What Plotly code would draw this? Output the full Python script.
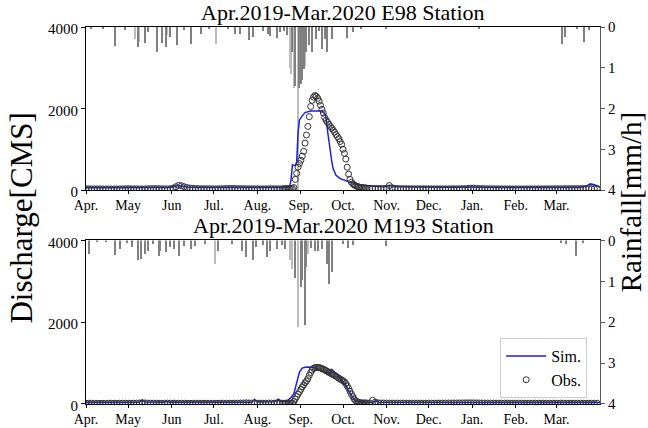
import pandas as pd
import plotly.graph_objects as go

# ---------------- data (day offsets from 2019-04-01) ----------------
start = pd.Timestamp("2019-04-01")
month_labels = ["Apr.", "May", "Jun", "Jul.", "Aug.", "Sep.", "Oct.", "Nov.", "Dec.", "Jan.", "Feb.", "Mar."]
discharge_ticks = [0, 2000, 4000]
rain_ticks = [0, 1, 2, 3, 4]
titles = ["Apr.2019-Mar.2020 E98 Station", "Apr.2019-Mar.2020 M193 Station"]

# observed discharge sample days (every 2 days, daily during the event)
obs_days = list(range(0, 140, 2)) + list(range(140, 201)) + list(range(202, 366, 2))

obs_e98 = [
    30, 29, 28, 28, 27, 27, 26, 26, 25, 25, 26,
    26, 27, 28, 30, 32, 30, 29, 28, 27, 26, 28, 30, 33, 35, 34, 32, 30, 29, 28, 30,
    45, 80, 115, 105, 80, 60, 48, 40, 36, 34,
    32, 31, 30, 30, 29, 29, 28, 30, 33, 36, 38, 37, 35, 34, 33, 32, 31, 30, 30, 29, 29, 28, 28, 29, 30, 31, 30, 29, 28,
    30, 30, 31, 32, 33, 34, 35, 38, 60, 260,
    410, 560, 650, 730, 830, 950, 1150, 1350, 1560, 1800,
    2050, 2200, 2280, 2320, 2300, 2250, 2180, 2080, 1980, 1890,
    1780, 1710, 1660, 1610, 1560, 1520, 1470, 1420, 1360, 1310,
    1260, 1190, 1120, 1000, 900, 760, 560, 390, 260, 190,
    150, 125, 105, 90, 78, 68, 60, 55, 50, 46,
    43,
    40, 38, 37, 36, 35, 36, 45, 110, 55, 40, 36, 34, 33, 32, 31,
    31, 30, 30, 30, 29, 29, 29, 28, 28, 28, 28, 28, 28, 29, 29, 30, 30, 31, 32, 34,
    38, 45, 48, 42, 36, 33, 31, 30, 30, 29,
    29, 29, 28, 28, 28, 28, 27, 27, 27, 27, 27, 27, 28, 28, 28, 28, 29, 29, 29, 30,
    30, 30, 30, 31, 31, 32, 32, 32, 33, 33, 34, 34, 35, 35, 34, 33, 32,
]

obs_m193 = [
    18, 18, 17, 17, 17, 16, 16, 16, 17, 17, 18, 18, 19, 19, 18, 18, 18, 19, 20, 24,
    30, 26, 22, 20, 19, 19, 18, 18, 19, 20, 20, 19, 19, 18, 18, 18, 17, 17, 17, 18,
    18, 18, 18, 17, 17, 17, 17, 18, 18, 18, 19, 19, 19, 20, 20, 22, 25, 28, 24, 22,
    21, 20, 20, 20, 21, 22, 22, 21, 20, 20,
    19, 19, 19, 20, 20, 21, 22, 25, 60, 120,
    180, 240, 300, 360, 420, 470, 520, 560, 620, 700,
    770, 830, 870, 890, 895, 895, 890, 880, 865, 850,
    835, 815, 795, 775, 755, 735, 715, 700, 680, 655,
    630, 610, 590, 565, 545, 500, 445, 380, 310, 240,
    180, 120, 80, 55, 40, 32, 28, 26, 25, 24,
    24,
    24, 90, 45, 28, 24, 23, 23, 22, 22, 22, 22, 21, 21, 21, 21,
    21, 21, 20, 20, 20, 20, 20, 20, 20, 21, 21, 22, 22, 23, 23, 24, 24, 25, 26, 26,
    27, 28, 27, 26, 25, 24, 23, 22, 22, 21,
    21, 21, 20, 20, 20, 20, 20, 19, 19, 19, 19, 19, 19, 19, 19, 19, 19, 19, 19, 19,
    19, 19, 19, 19, 19, 19, 19, 18, 18, 18, 18, 18, 18, 18, 18, 18, 18,
]

# simulated discharge
sim_e98_days = [0, 20, 40, 60, 63, 66, 69, 73, 80, 100, 115, 125, 135, 143, 145, 146, 147, 148, 149, 150,
                151, 152, 154, 156, 160, 165, 168, 170, 171, 172, 173, 174, 175, 176, 178, 181, 188, 195, 205, 213,
                216, 219, 230, 250, 272, 275, 278, 300, 330, 352, 356, 359, 362, 366]
sim_e98 = [55, 58, 60, 62, 85, 110, 95, 70, 62, 60, 65, 72, 68, 62, 80, 250, 620, 600, 610, 680,
           1400, 1720, 1820, 1900, 1940, 1950, 1940, 1880, 1750, 1450, 1150, 900, 700, 520, 360, 280, 190, 130, 90, 80,
           115, 80, 70, 65, 65, 78, 65, 62, 60, 60, 90, 150, 130, 70]

sim_m193_days = [0, 10, 25, 38, 40, 42, 55, 57, 59, 80, 100, 118, 120, 122, 134, 137, 139, 142, 144, 146,
                 148, 149, 150, 152, 154, 156, 160, 163, 165, 168, 171, 173, 174, 175, 177, 179, 181, 183, 185, 187,
                 189, 191, 193, 196, 204, 206, 208, 240, 280, 320, 366]
sim_m193 = [35, 38, 40, 45, 95, 50, 42, 60, 42, 40, 40, 45, 115, 50, 55, 120, 70, 70, 100, 160,
            250, 400, 560, 780, 880, 900, 905, 890, 860, 820, 780, 735, 790, 845, 780, 700, 620, 540, 460, 330,
            200, 100, 60, 45, 42, 80, 45, 38, 38, 37, 36]

# rainfall [mm/h]
rain_e98_dark_days = [4, 12, 21, 28, 37, 42, 44, 51, 54, 57, 60, 65, 70, 75, 82, 88, 101, 106, 110, 116,
                      119, 126, 130, 131, 136, 138, 141, 143, 147, 149, 152, 153, 154, 155, 157, 159, 161, 164, 166, 168,
                      170, 172, 175, 186, 190, 196, 214, 280, 339, 341, 350, 355, 358]
rain_e98_dark = [0.05, 0.04, 0.47, 0.08, 0.48, 0.40, 0.12, 0.62, 0.40, 0.48, 0.25, 0.45, 0.08, 0.41, 0.17, 0.06, 0.06, 0.17, 0.16, 0.33,
                 0.24, 0.10, 0.17, 0.22, 0.27, 0.12, 0.10, 0.20, 0.62, 1.44, 1.50, 1.40, 1.30, 1.03, 0.62, 0.45, 0.62, 0.29, 0.10, 0.54,
                 0.29, 0.62, 0.29, 0.28, 0.12, 0.05, 0.04, 0.03, 0.42, 0.25, 0.06, 0.36, 0.08]
rain_e98_light_days = [35, 38, 58, 93, 145, 146, 148, 151, 156]
rain_e98_light = [0.29, 0.37, 0.20, 0.41, 1.00, 1.15, 1.50, 4.50, 0.95]

rain_m193_dark_days = [2, 8, 14, 21, 24, 29, 33, 37, 39, 42, 44, 48, 52, 53, 57, 60, 63, 66, 70, 75,
                       78, 85, 94, 104, 111, 114, 119, 121, 126, 129, 131, 136, 140, 142, 149, 153, 154, 156, 157, 160,
                       163, 165, 168, 172, 173, 175, 183, 187, 190, 214, 338, 342, 349, 354]
rain_m193_dark = [0.34, 0.06, 0.05, 0.36, 0.22, 0.08, 0.18, 0.50, 0.46, 0.34, 0.26, 0.10, 0.38, 0.26, 0.30, 0.18, 0.22, 0.38, 0.14, 0.22,
                  0.14, 0.10, 0.26, 0.10, 0.26, 0.42, 0.50, 0.18, 0.12, 0.42, 0.26, 0.22, 0.12, 0.22, 0.92, 1.14, 0.98, 2.08, 0.66, 0.20,
                  0.26, 0.26, 0.22, 0.58, 1.08, 0.78, 0.10, 0.20, 0.12, 0.15, 0.08, 0.10, 0.40, 0.08]
rain_m193_light_days = [92, 145, 147, 151, 158]
rain_m193_light = [0.58, 0.50, 0.71, 2.14, 0.35]

# ---------------- figure ----------------
FONT = "Liberation Serif"
DAY_MS = 86400000


def to_dates(days):
    return [start + pd.Timedelta(days=int(d)) for d in days]


month_starts = list(pd.date_range(start, periods=12, freq="MS"))
x_end = start + pd.Timedelta(days=366)

fig = go.Figure()

stations = [
    dict(obs=obs_e98, sim_d=sim_e98_days, sim=sim_e98,
         rd_d=rain_e98_dark_days, rd=rain_e98_dark, rl_d=rain_e98_light_days, rl=rain_e98_light,
         xa="x", rain_ax="y", q_ax="y2", legend=False),
    dict(obs=obs_m193, sim_d=sim_m193_days, sim=sim_m193,
         rd_d=rain_m193_dark_days, rd=rain_m193_dark, rl_d=rain_m193_light_days, rl=rain_m193_light,
         xa="x2", rain_ax="y3", q_ax="y4", legend=True),
]

for s in stations:
    fig.add_trace(go.Bar(x=to_dates(s["rl_d"]), y=s["rl"], width=0.9 * DAY_MS,
                         marker=dict(color="rgb(188,188,188)", line=dict(width=0)),
                         xaxis=s["xa"], yaxis=s["rain_ax"], showlegend=False))
    fig.add_trace(go.Bar(x=to_dates(s["rd_d"]), y=s["rd"], width=0.9 * DAY_MS,
                         marker=dict(color="rgb(128,128,128)", line=dict(width=0)),
                         xaxis=s["xa"], yaxis=s["rain_ax"], showlegend=False))
    fig.add_trace(go.Scatter(x=to_dates(s["sim_d"]), y=s["sim"], mode="lines", name="Sim.",
                             line=dict(color="rgb(30,30,230)", width=1.5),
                             xaxis=s["xa"], yaxis=s["q_ax"], showlegend=s["legend"]))
    fig.add_trace(go.Scatter(x=to_dates(obs_days), y=s["obs"], mode="markers", name="Obs.",
                             marker=dict(symbol="circle-open", size=6, color="rgb(50,50,50)",
                                         line=dict(width=1, color="rgb(50,50,50)")),
                             xaxis=s["xa"], yaxis=s["q_ax"], showlegend=s["legend"]))

top_dom = [0.5676, 1.0]
bot_dom = [0.0, 0.4337]

xcommon = dict(type="date", range=[start, x_end], tickvals=month_starts, ticktext=month_labels,
               ticks="outside", ticklen=3, tickcolor="black", showline=True, linecolor="black",
               linewidth=1, mirror=True, showgrid=False, zeroline=False, automargin=False,
               ticklabelstandoff=-1,
               tickfont=dict(family=FONT, size=14, color="black"))
raincommon = dict(side="right", range=[4, 0], tickvals=rain_ticks, ticks="outside", ticklen=4,
                  tickcolor="rgb(90,90,90)", showline=True, linecolor="rgb(90,90,90)", linewidth=1,
                  showgrid=False, zeroline=False, automargin=False,
                  tickfont=dict(family=FONT, size=15, color="black"))
qcommon = dict(side="left", range=[0, 4000], tickvals=discharge_ticks, ticks="outside", ticklen=4,
               tickcolor="black", showline=True, linecolor="black", linewidth=1,
               showgrid=False, zeroline=False, automargin=False, ticklabelshift=2,
               tickfont=dict(family=FONT, size=15, color="black"))

fig.update_layout(
    width=648, height=428,
    margin=dict(l=86, r=48, t=27, b=24),
    plot_bgcolor="white", paper_bgcolor="white",
    barmode="overlay", bargap=0,
    font=dict(family=FONT, color="black"),
    xaxis=dict(domain=[0, 1], anchor="y", **xcommon),
    yaxis=dict(domain=top_dom, anchor="x", **raincommon),
    yaxis2=dict(overlaying="y", anchor="x", **qcommon),
    xaxis2=dict(domain=[0, 1], anchor="y3", **xcommon),
    yaxis3=dict(domain=bot_dom, anchor="x2", **raincommon),
    yaxis4=dict(overlaying="y3", anchor="x2", **qcommon),
    legend=dict(x=0.975, y=0.175, xanchor="right", yanchor="top",
                bgcolor="white", bordercolor="rgb(205,205,205)", borderwidth=1,
                font=dict(family=FONT, size=16, color="black"), itemwidth=40,
                tracegroupgap=0),
    showlegend=True,
)

annos = [
    dict(text=titles[0], x=0.5, y=top_dom[1], xref="paper", yref="paper", xanchor="center",
         yanchor="bottom", showarrow=False, font=dict(family=FONT, size=22, color="black")),
    dict(text=titles[1], x=0.5, y=bot_dom[1], xref="paper", yref="paper", xanchor="center",
         yanchor="bottom", showarrow=False, font=dict(family=FONT, size=22, color="black")),
    dict(text="Discharge[CMS]", x=-0.1245, y=0.492, xref="paper", yref="paper", xanchor="center",
         yanchor="middle", textangle=-90, showarrow=False, font=dict(family=FONT, size=31, color="black")),
    dict(text="Rainfall[mm/h]", x=1.0603, y=0.535, xref="paper", yref="paper", xanchor="center",
         yanchor="middle", textangle=-90, showarrow=False, font=dict(family=FONT, size=29, color="black")),
]
fig.update_layout(annotations=annos)

fig.write_html("out.html", config={"displayModeBar": False},
               post_script="document.body.style.margin='0';document.body.style.overflow='hidden';")
